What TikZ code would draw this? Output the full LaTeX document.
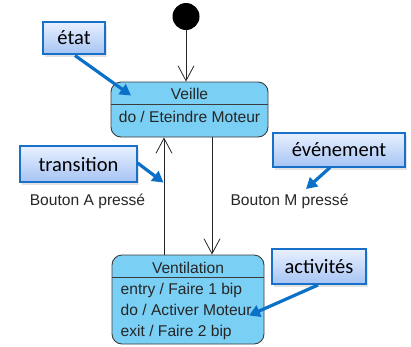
\documentclass[tikz,border=0pt]{standalone}
\usepackage{fontspec}
\setmainfont{Liberation Sans}
\newfontfamily\callfont{Carlito}
\usetikzlibrary{arrows.meta,shadows}
\definecolor{statefill}{RGB}{122,207,244}
\definecolor{stateline}{RGB}{60,60,60}
\definecolor{calltop}{RGB}{232,240,255}
\definecolor{callbot}{RGB}{166,196,244}
\definecolor{callline}{RGB}{24,112,200}
\definecolor{callarrow}{RGB}{10,112,200}
\tikzset{
  statebox/.style={draw=stateline, line width=0.9pt, fill=statefill, rounded corners=10pt, inner sep=0pt},
  statetxt/.style={font=\fontsize{15.6}{17}\selectfont, inner sep=0pt, text=black!85, anchor=base},
  trans/.style={draw=black!85, line width=0.8pt, -{Straight Barb[length=15pt,width=16pt,line width=0.8pt]}},
  callout/.style={draw=callline, line width=1.2pt, top color=calltop, bottom color=callbot,
    inner sep=0pt, font=\callfont\fontsize{20.5}{22}\selectfont,
    drop shadow={opacity=0.22, shadow xshift=2pt, shadow yshift=-2.5pt}},
  callarr/.style={draw=callarrow, line width=3.2pt, -{Triangle[length=11pt,width=12pt]}},
}
\begin{document}
\begin{tikzpicture}[x=1pt,y=-1pt]
\useasboundingbox (0,0) rectangle (411,346);

% initial pseudo-state
\node[circle, fill=black, minimum size=27pt, inner sep=0pt] (init) at (186,16.5) {};

% state Veille
\node[statebox, minimum width=157pt, minimum height=55pt] (veille) at (189.5,109.5) {};
\draw[stateline, line width=0.9pt] (veille.west |- 0,104) -- (veille.east |- 0,104);
\node[statetxt] (veilleN) at (189.5,99) {Veille};
\node[statetxt] (veilleA) at (189.5,122.5) {do / Eteindre Moteur};

% state Ventilation
\node[statebox, minimum width=152pt, minimum height=89pt] (vent) at (188,299.5) {};
\draw[stateline, line width=0.9pt] (vent.west |- 0,277) -- (vent.east |- 0,277);
\node[statetxt] (ventN) at (188,273.5) {Ventilation};
\node[statetxt, anchor=base west] (ventA) at (120.5,294.5) {entry / Faire 1 bip};
\node[statetxt, anchor=base west] (ventB) at (120.5,315.5) {do / Activer Moteur};
\node[statetxt, anchor=base west] (ventC) at (120.5,336.5) {exit / Faire 2 bip};

% transitions
\draw[trans] (init.south) -- (init.south |- veille.north);
\draw[trans] (vent.north -| 164,0) -- (veille.south -| 164,0);
\draw[trans] (veille.south -| 212,0) -- (vent.north -| 212,0);
\node[statetxt] (evA) at (87.5,205.5) {Bouton A pressé};
\node[statetxt] (evM) at (289.5,205.5) {Bouton M pressé};

% callouts
\node[callout, minimum width=62pt, minimum height=32pt] (cEtat) at (74,38) {état};
\node[callout, minimum width=117pt, minimum height=36pt] (cTrans) at (78.5,164) {transition};
\node[callout, minimum width=132pt, minimum height=34pt] (cEvt) at (339,150) {événement};
\node[callout, minimum width=94pt, minimum height=35pt] (cAct) at (319,266.5) {activités};

\coordinate (pEtat) at (131,95.5);
\coordinate (pTrans) at (163.5,182.5);
\coordinate (pEvt) at (306,189);
\coordinate (pAct) at (249,315.5);

\draw[callarr] (75,55.5) -- (pEtat);
\draw[callarr] (cTrans.east |- 0,163) -- (pTrans);
\draw[callarr] (330,167.5) -- (pEvt);
\draw[callarr] (318,285) -- (pAct);
\end{tikzpicture}
\end{document}
